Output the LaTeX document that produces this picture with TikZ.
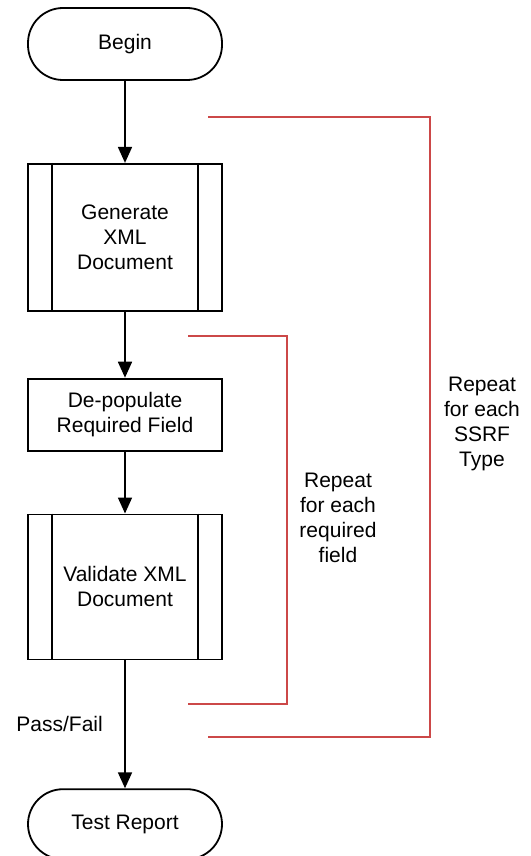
\documentclass[tikz,border=0pt]{standalone}
\usepackage{fontspec}
\setmainfont{Liberation Sans}
\usetikzlibrary{positioning,arrows.meta}
\definecolor{repeatred}{RGB}{204,72,72}

\begin{document}
\begin{tikzpicture}
    [
        x = 1pt, y = 1pt,
        font = \fontsize{21}{25}\selectfont,
        terminal/.style = {draw, line width = 1.8pt, rounded corners = 35pt, minimum width = 194pt, minimum height = 72pt, align = center},
        process/.style = {draw, line width = 1.8pt, minimum width = 194pt, align = center},
        flow/.style = {line width = 1.8pt, -{Triangle[width = 14pt, length = 16pt]}},
        repeatline/.style = {draw = repeatred, line width = 1.8pt},
        note/.style = {align = center}
    ]

        \useasboundingbox (0,0) rectangle (530,-856);

        \node[terminal] (begin) at (125,-44) {Begin};
        \node[process, minimum height = 147pt, below = 82pt of begin] (gen) {Generate\\XML\\Document};
        \node[process, minimum height = 72pt, below = 66pt of gen] (depop) {De-populate\\Required Field};
        \node[process, minimum height = 145pt, below = 62pt of depop] (valid) {Validate XML\\Document};
        \node[terminal, minimum height = 70pt, below = 128pt of valid] (report) {Test Report};

        % side bars of the predefined processes
        \foreach \n in {gen, valid} {
            \draw[line width = 1.8pt] ([xshift = 25pt]\n.north west) -- ([xshift = 25pt]\n.south west);
            \draw[line width = 1.8pt] ([xshift = -25pt]\n.north east) -- ([xshift = -25pt]\n.south east);
        }

        \draw[flow] (begin) -- (gen);
        \draw[flow] (gen) -- (depop);
        \draw[flow] (depop) -- (valid);
        \draw[flow] (valid) -- node[left = 18pt] {Pass/Fail} (report);

        % repeat brackets
        \coordinate (fieldtop) at (188,-336);
        \coordinate (fieldside) at (287,-520);
        \coordinate (fieldbot) at (188,-704);
        \draw[repeatline] (fieldtop) -| (fieldside) |- (fieldbot);
        \node[note] (fieldnote) at (338,-518) {Repeat\\for each\\required\\field};

        \coordinate (typetop) at (208,-117);
        \coordinate (typeside) at (430,-424);
        \coordinate (typebot) at (208,-737);
        \draw[repeatline] (typetop) -| (typeside) |- (typebot);
        \node[note] (typenote) at (482,-424) {Repeat\\for each\\SSRF\\Type};
    \end{tikzpicture}
\end{document}
